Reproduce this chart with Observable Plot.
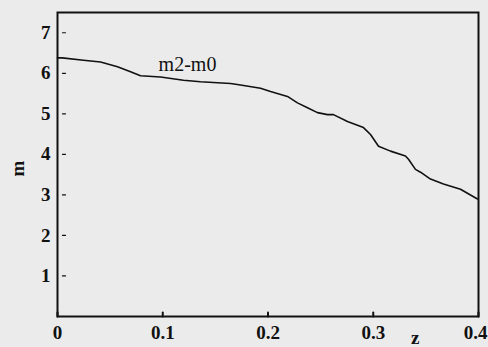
<!DOCTYPE html>
<html>
<head>
<meta charset="utf-8">
<script src="https://cdn.jsdelivr.net/npm/d3@7"></script>
<script src="https://cdn.jsdelivr.net/npm/@observablehq/plot@0.6"></script>
<style>
  html, body { margin: 0; padding: 0; background: #ebebeb; }
  #chart { width: 488px; height: 347px; }
</style>
</head>
<body>
<div id="chart"></div>
<script>
// redshift z and the magnitude difference m2-m0 along the curve
const zValues = [0, 0.0045, 0.0247, 0.0409, 0.057, 0.0694, 0.0789, 0.0979, 0.1197, 0.1359,
  0.1644, 0.1739, 0.1929, 0.2024, 0.2185, 0.228, 0.2375, 0.247, 0.2565, 0.2622,
  0.2755, 0.2907, 0.2974, 0.305, 0.3164, 0.3306, 0.3335, 0.3401, 0.3449, 0.3544,
  0.3667, 0.3829, 0.399];
const mValues = [6.38, 6.38, 6.32, 6.28, 6.16, 6.04, 5.94, 5.91, 5.83, 5.79,
  5.75, 5.71, 5.63, 5.55, 5.43, 5.27, 5.15, 5.03, 4.98, 4.98,
  4.81, 4.66, 4.49, 4.20, 4.08, 3.96, 3.88, 3.63, 3.56, 3.39,
  3.27, 3.14, 2.90];
const xTicks = [0, 0.1, 0.2, 0.3, 0.4];
const xTickLabels = ["0", "0.1", "0.2", "0.3", "0.4"];
const yTicks = [1, 2, 3, 4, 5, 6, 7];
const seriesName = "m2-m0";

const curve = zValues.map((z, i) => ({z, m: mValues[i]}));
const xLabelRows = xTicks.map((z, i) => ({z, label: xTickLabels[i]}));
const serif = "Liberation Serif";

// a plain stroke from the anchor point, used for the short inward ticks
const stub = {draw(context, l) { context.moveTo(0, 0); context.lineTo(0, -l); }};

const xLabelStyle = {x: "z", text: "label", frameAnchor: "bottom", lineAnchor: "middle", dy: 16,
  fontSize: 19, fontWeight: "bold", fontFamily: serif, fill: "#111"};

const chart = Plot.plot({
  width: 488,
  height: 347,
  marginLeft: 57,
  marginRight: 10,
  marginTop: 12,
  marginBottom: 31,
  x: {domain: [0, 0.4], axis: null},
  y: {domain: [0, 7.5], axis: null},
  style: {background: "#ebebeb", fontFamily: serif, color: "#111"},
  marks: [
    // inward ticks on the z axis
    Plot.vector(xTicks, {x: d => d, frameAnchor: "bottom", length: 4, anchor: "start", shape: stub,
      stroke: "#111", strokeWidth: 2}),
    Plot.text(xLabelRows.slice(0, -1), xLabelStyle),
    // the last label sits against the right edge
    Plot.text(xLabelRows.slice(-1), {...xLabelStyle, dx: -3}),
    Plot.text(yTicks, {y: d => d, frameAnchor: "left", dx: -7, textAnchor: "end", text: d => String(d),
      fontSize: 19, fontWeight: "bold", fontFamily: serif, fill: "#111"}),
    // short dashes just inside the y axis
    Plot.vector(yTicks, {y: d => d, frameAnchor: "left", dx: 5, length: 3, rotate: 90, anchor: "start", shape: stub,
      stroke: "#111", strokeWidth: 1.2}),
    Plot.line(curve, {x: "z", y: "m", stroke: "#111", strokeWidth: 1.6}),
    Plot.frame({stroke: "#111", strokeWidth: 2}),
    Plot.text([seriesName], {frameAnchor: "top-left", lineAnchor: "middle", dx: 130, dy: 52, text: d => d, fontSize: 20, fontFamily: serif, textAnchor: "middle", fill: "#111"}),
    Plot.text(["m"], {frameAnchor: "left", dx: -40, dy: 12, text: d => d, rotate: -90, fontSize: 19, fontWeight: "bold", fontFamily: serif, fill: "#111"}),
    Plot.text(["z"], {frameAnchor: "bottom-right", lineAnchor: "middle", dx: -59, dy: 21, text: d => d, fontSize: 19, fontWeight: "bold", fontFamily: serif, fill: "#111"})
  ]
});
document.getElementById("chart").append(chart);
</script>
</body>
</html>
